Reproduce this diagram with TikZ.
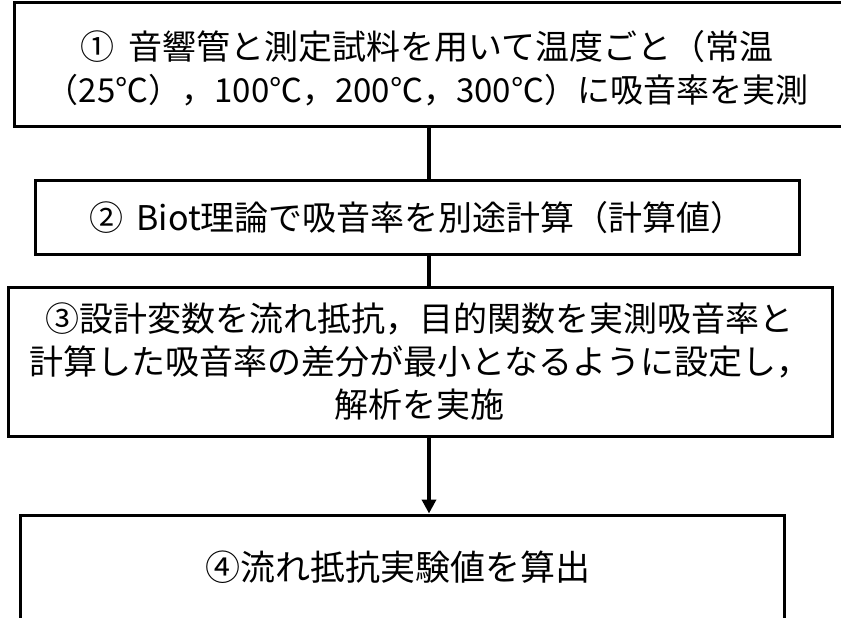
\documentclass[tikz,border=0pt]{standalone}
\usepackage{fontspec}
\setmainfont{Noto Sans CJK JP}
\usetikzlibrary{arrows.meta}
\tikzset{
  flowbox/.style={draw=black, line width=3pt, fill=white, inner sep=0pt, align=center,
    font=\fontsize{34}{43}\selectfont},
  link/.style={draw=black, line width=3.5pt},
}
\begin{document}
\begin{tikzpicture}[x=1pt,y=-1pt]
\useasboundingbox (0,0) rectangle (841,618);
\clip (0,0) rectangle (841,618);
\coordinate (cx) at (429,0);
\node[flowbox, minimum width=834pt, minimum height=123pt] (b1) at (431,64.5) {};
\node[font=\fontsize{34}{43}\selectfont, align=center] (t1) at (427,68)
  {①\, 音響管と測定試料を用いて温度ごと（常温\\{\fontsize{33}{43}\selectfont（25℃），100℃，200℃，300℃）に吸音率を実測}};
\node[flowbox, minimum width=764pt, minimum height=74pt] (b2) at (417,217.5)
  {②\, Biot理論で吸音率を別途計算（計算値）};
\node[flowbox, minimum width=824pt, minimum height=149pt] (b3) at (420,361.5)
  {③設計変数を流れ抵抗，目的関数を実測吸音率と\\計算した吸音率の差分が最小となるように設定し，\\解析を実施};
\node[flowbox, minimum width=764pt, minimum height=185pt] (b4) at (402,607.5) {};
\node[font=\fontsize{35}{43}\selectfont] (t4) at (398,567) {④流れ抵抗実験値を算出};
\draw[link] (b1.south -| cx) -- (b2.north -| cx);
\draw[link] (b2.south -| cx) -- (b3.north -| cx);
\draw[link, -{Triangle[length=14pt,width=14pt]}] (b3.south -| cx) -- (b4.north -| cx);
\end{tikzpicture}
\end{document}
